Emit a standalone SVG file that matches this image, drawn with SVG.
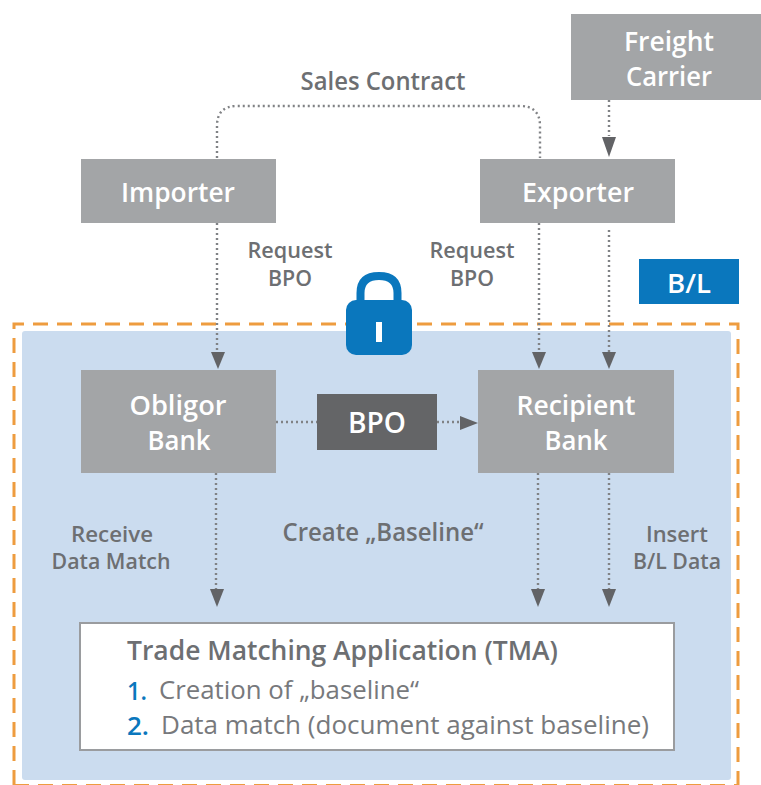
<svg xmlns="http://www.w3.org/2000/svg" width="761" height="785" viewBox="0 0 761 785">
<defs>
<style>
text{font-family:"Open Sans","Liberation Sans",sans-serif;text-anchor:middle}
.box{fill:#a3a5a7}
.w{fill:#fff;font-size:27px;font-weight:600}
.g{fill:#6d6f72;font-size:21px;font-weight:600}
.c{fill:none;stroke:#808285;stroke-width:2.4;stroke-dasharray:2 3}
.a{fill:#626366}
.l{text-anchor:start;fill:#77797c;font-size:26px}
.n{text-anchor:start;fill:#0a77bd;font-size:26px;font-weight:600}
</style>
</defs>
<rect width="761" height="785" fill="#fff"/>
<g id="zone">
<rect x="22" y="331" width="709" height="449" rx="3" fill="#cbdcef"/>
<path d="M14 785V324H738V785" fill="none" stroke="#ee9c3f" stroke-width="3" stroke-dasharray="15 9"/>
<path d="M14 785.500H738" fill="none" stroke="#ee9c3f" stroke-width="3" stroke-dasharray="15 9"/>
</g>
<g id="connectors">
<path class="c" d="M217 158V126Q217 106 237 106H520Q540 106 540 126V158"/>
<path class="c" d="M609 100V136"/>
<path class="c" d="M217 223V352"/>
<path class="c" d="M539 223V352"/>
<path class="c" d="M609 230V352"/>
<path class="c" d="M276 422H317"/>
<path class="c" d="M437 422H462"/>
<path class="c" d="M216 473V590"/>
<path class="c" d="M538 473V590"/>
<path class="c" d="M609 473V590"/>
<path class="a" d="M602 137H616L609 157Z"/>
<path class="a" d="M211 352H225L218 369Z"/>
<path class="a" d="M532 352H546L539 369Z"/>
<path class="a" d="M602 352H616L609 369Z"/>
<path class="a" d="M460 416L478 423L460 430Z"/>
<path class="a" d="M210 589H224L217 607Z"/>
<path class="a" d="M531 589H545L538 607Z"/>
<path class="a" d="M602 589H616L609 607Z"/>
</g>
<g id="freight"><rect class="box" x="571" y="14" width="190" height="86"/>
<text class="w" x="669" y="51" textLength="90" lengthAdjust="spacingAndGlyphs">Freight</text>
<text class="w" x="669" y="86" textLength="86" lengthAdjust="spacingAndGlyphs">Carrier</text></g>
<g id="importer"><rect class="box" x="81" y="159" width="195" height="64"/>
<text class="w" x="178" y="202" textLength="114" lengthAdjust="spacingAndGlyphs">Importer</text></g>
<g id="exporter"><rect class="box" x="480" y="159" width="195" height="64"/>
<text class="w" x="578" y="202" textLength="112" lengthAdjust="spacingAndGlyphs">Exporter</text></g>
<g id="bl"><rect x="639" y="259" width="100" height="45" fill="#0a77bd"/>
<text class="w" x="689" y="293" textLength="44" lengthAdjust="spacingAndGlyphs">B/L</text></g>
<g id="lock">
<path d="M360.500 306V293Q360.500 276 379 276Q397.500 276 397.500 293V306" fill="none" stroke="#0a77bd" stroke-width="8"/>
<rect x="346" y="300" width="66" height="55" rx="10" fill="#0a77bd"/>
<rect x="376" y="322" width="6" height="20" fill="#fff"/>
</g>
<g id="obligor"><rect class="box" x="81" y="370" width="195" height="103"/>
<text class="w" x="178" y="415" textLength="97" lengthAdjust="spacingAndGlyphs">Obligor</text>
<text class="w" x="179" y="450" textLength="63" lengthAdjust="spacingAndGlyphs">Bank</text></g>
<g id="bpo"><rect x="317" y="394" width="120" height="56" fill="#646567"/>
<text class="w" x="377" y="433" textLength="58" lengthAdjust="spacingAndGlyphs" style="font-size:29px">BPO</text></g>
<g id="recipient"><rect class="box" x="478" y="370" width="196" height="103"/>
<text class="w" x="576" y="415" textLength="119" lengthAdjust="spacingAndGlyphs">Recipient</text>
<text class="w" x="576" y="450" textLength="63" lengthAdjust="spacingAndGlyphs">Bank</text></g>
<g id="tma"><rect x="80" y="623" width="594" height="127" fill="#fff" stroke="#9a9c9f" stroke-width="2"/>
<text class="g" x="127" y="660" style="text-anchor:start;font-size:27px" textLength="431" lengthAdjust="spacingAndGlyphs">Trade Matching Application (TMA)</text>
<text class="n" x="127" y="700" textLength="20" lengthAdjust="spacingAndGlyphs">1.</text>
<text class="l" x="159" y="699" textLength="260" lengthAdjust="spacingAndGlyphs">Creation of „baseline“</text>
<text class="n" x="127" y="735" textLength="22" lengthAdjust="spacingAndGlyphs">2.</text>
<text class="l" x="161" y="734" textLength="488" lengthAdjust="spacingAndGlyphs">Data match (document against baseline)</text></g>
<g id="labels">
<text class="g" x="383" y="90" style="font-size:26px" textLength="165" lengthAdjust="spacingAndGlyphs">Sales Contract</text>
<text class="g" x="290" y="258" textLength="85" lengthAdjust="spacingAndGlyphs">Request</text>
<text class="g" x="290" y="286" textLength="44" lengthAdjust="spacingAndGlyphs">BPO</text>
<text class="g" x="472" y="258" textLength="85" lengthAdjust="spacingAndGlyphs">Request</text>
<text class="g" x="472" y="286" textLength="44" lengthAdjust="spacingAndGlyphs">BPO</text>
<text class="g" x="112" y="542" textLength="82" lengthAdjust="spacingAndGlyphs">Receive</text>
<text class="g" x="111" y="569" textLength="119" lengthAdjust="spacingAndGlyphs">Data Match</text>
<text class="g" x="383" y="541" style="font-size:26px" textLength="201" lengthAdjust="spacingAndGlyphs">Create „Baseline“</text>
<text class="g" x="677" y="542" textLength="62" lengthAdjust="spacingAndGlyphs">Insert</text>
<text class="g" x="677" y="569" textLength="88" lengthAdjust="spacingAndGlyphs">B/L Data</text>
</g>
</svg>
